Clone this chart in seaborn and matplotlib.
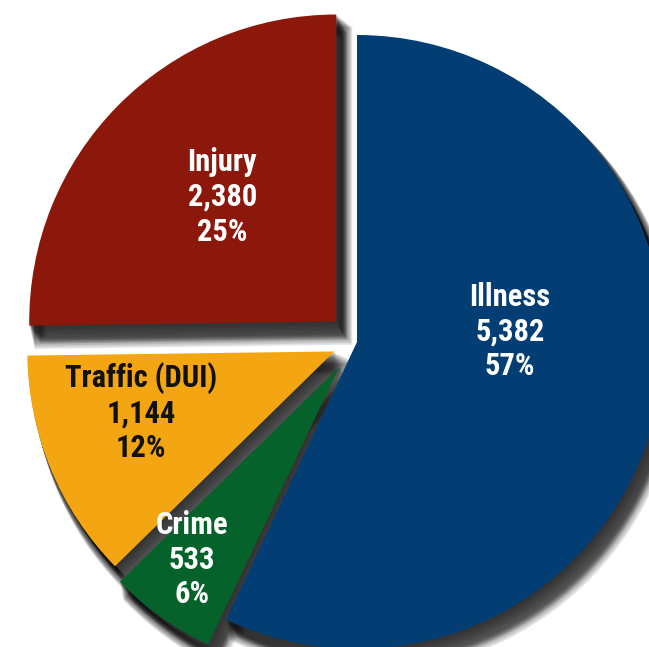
import matplotlib
matplotlib.use('Agg')
import matplotlib.pyplot as plt
from matplotlib.patches import Shadow
import seaborn as sns
import numpy as np

# Data (clockwise from 12 o'clock)
categories = ['Illness', 'Crime', 'Traffic (DUI)', 'Injury']
counts = [5382, 533, 1144, 2380]
percents = [57, 6, 12, 25]

# Styling
colors = ['#023e74', '#04622a', '#f3a612', '#8b180b']
text_colors = ['white', 'white', '#111111', 'white']
explode = [0, 0.10, 0.08, 0.095]
label_r = [0.5, 0.79, 0.66, 0.55]
label_shift = [16.5, -2, -5, -3]  # degrees away from the wedge middle

sns.set_theme(style='white')
plt.rcParams['font.family'] = ['Roboto Condensed', 'Liberation Sans Narrow',
                               'Roboto', 'DejaVu Sans']

fig = plt.figure(figsize=(6.49, 6.47), dpi=100)
ax = fig.add_axes([0, 0, 1, 1])

wedges, _ = ax.pie(counts, colors=sns.color_palette(colors), startangle=90,
                   counterclock=False, explode=explode,
                   wedgeprops=dict(linewidth=0))

# soft drop shadow down and to the right: many faint stacked layers
for w in wedges:
    for k in range(1, 15):
        ax.add_patch(Shadow(w, 0.0018 * k, -0.003 * k, facecolor='black',
                            edgecolor='black', linewidth=0.55 * k, alpha=0.1))

# labels
for w, cat, n, p, r, dth, tc in zip(wedges, categories, counts, percents,
                                    label_r, label_shift, text_colors):
    ang = np.deg2rad((w.theta1 + w.theta2) / 2 + dth)
    cx, cy = w.center
    ax.text(cx + r * np.cos(ang), cy + r * np.sin(ang), f'{cat}\n{n:,}\n{p}%',
            ha='center', va='center', color=tc, fontsize=22, fontweight='bold',
            linespacing=1.2)

# crop the pie the way the original is framed
ax.set_aspect('auto')
ax.set_xlim(-357 / 307, (649 - 357) / 307)
ax.set_ylim(-(647 - 342) / 307, 342 / 307)
ax.axis('off')

fig.savefig('out.png', dpi=100, facecolor='white')
